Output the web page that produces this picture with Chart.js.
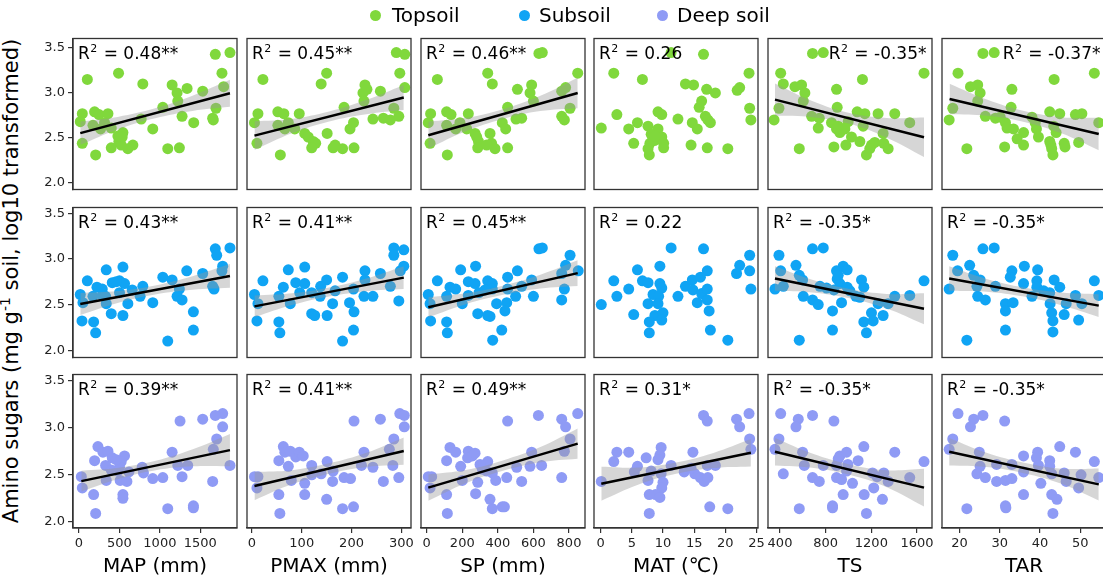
<!DOCTYPE html>
<html><head><meta charset="utf-8">
<script src="https://cdn.jsdelivr.net/npm/chart.js@4.4.1/dist/chart.umd.min.js"></script>
<style>
html,body{margin:0;padding:0;background:#fff;overflow:hidden;width:1103px;height:583px;}
body{position:relative;font-family:"DejaVu Sans",sans-serif;}
.wrap{position:absolute;}
.wrap canvas{display:block;}
.leg-dot{position:absolute;width:11px;height:11px;border-radius:50%;}
.leg-txt{position:absolute;font-size:20px;line-height:20px;color:#000;white-space:nowrap;}
#ytitle{position:absolute;left:11px;top:280.5px;transform:translate(-50%,-50%) rotate(-90deg);font-size:21px;line-height:21px;white-space:nowrap;color:#000;}
#ytitle sup{font-size:14px;vertical-align:8px;line-height:0;}
</style></head><body>
<div id="ytitle">Amino sugars (mg g<sup>-1</sup> soil, log10 transformed)</div>
<script>
// ---------------- DATA ----------------
const seriesNames = ["Topsoil", "Subsoil", "Deep soil"];
const predictors = ["MAP (mm)", "PMAX (mm)", "SP (mm)", "MAT (\u2103)", "TS", "TAR"];
const xTicks_MAP = [0, 500, 1000, 1500];
const xTicks_PMAX = [0, 100, 200, 300];
const xTicks_SP = [0, 200, 400, 600, 800];
const xTicks_MAT = [0, 5, 10, 15, 20, 25];
const xTicks_TS = [400, 800, 1200, 1600];
const xTicks_TAR = [20, 30, 40, 50];
const yTicks = [2.0, 2.5, 3.0, 3.5];

const r2Top  = ["0.48**", "0.45**", "0.46**", "0.26", "-0.35*", "-0.37*"];
const r2Sub  = ["0.43**", "0.41**", "0.45**", "0.22", "-0.35*", "-0.35*"];
const r2Deep = ["0.39**", "0.41**", "0.49**", "0.31*", "-0.35*", "-0.35*"];

// Topsoil
const top_MAP = [[1866,3.45],[1685,3.43],[1767,3.22],[1788,3.07],[103,3.15],[489,3.22],[789,3.10],[1151,3.09],[1336,3.05],[1212,3.00],[1529,3.02],[1221,2.91],[1693,2.83],[1036,2.84],[41,2.77],[193,2.79],[247,2.76],[358,2.77],[16,2.68],[769,2.71],[1274,2.74],[1652,2.72],[1660,2.70],[1418,2.67],[173,2.64],[316,2.67],[267,2.60],[399,2.61],[912,2.60],[543,2.56],[534,2.51],[493,2.46],[522,2.42],[41,2.44],[666,2.42],[604,2.38],[399,2.39],[1097,2.38],[1241,2.39],[206,2.31],[481,2.52]];
const top_PMAX = [[290,3.45],[307,3.43],[297,3.22],[307,3.06],[22,3.15],[150,3.22],[139,3.10],[227,3.09],[231,3.04],[223,3.00],[258,3.02],[225,2.91],[285,2.83],[185,2.84],[12,2.77],[52,2.79],[64,2.77],[95,2.77],[5,2.67],[243,2.71],[264,2.72],[278,2.70],[295,2.74],[204,2.67],[52,2.64],[73,2.67],[66,2.60],[86,2.60],[197,2.60],[106,2.55],[113,2.51],[123,2.46],[128,2.44],[10,2.44],[120,2.39],[163,2.39],[182,2.38],[205,2.39],[57,2.31],[151,2.55],[167,2.42]];
const top_SP = [[631,3.44],[650,3.45],[849,3.22],[60,3.15],[343,3.22],[369,3.10],[510,3.04],[590,3.09],[581,3.00],[781,3.06],[759,3.02],[600,2.91],[806,2.83],[455,2.84],[22,2.77],[112,2.79],[137,2.76],[234,2.77],[9,2.67],[759,2.74],[774,2.70],[502,2.71],[534,2.72],[425,2.67],[112,2.64],[187,2.67],[163,2.60],[225,2.60],[444,2.60],[272,2.55],[281,2.51],[291,2.46],[19,2.44],[287,2.39],[356,2.55],[365,2.44],[384,2.38],[455,2.39],[116,2.31],[337,2.42]];
const top_MAT = [[11.3,3.45],[16.5,3.43],[2.1,3.22],[6.7,3.15],[23.8,3.22],[13.6,3.10],[14.9,3.09],[17.0,3.04],[18.4,3.00],[21.9,3.03],[22.3,3.06],[16.2,2.91],[15.8,2.84],[23.9,2.83],[2.6,2.76],[9.2,2.79],[9.8,2.76],[12.4,2.71],[24.1,2.70],[16.8,2.74],[17.2,2.70],[17.6,2.67],[14.7,2.67],[0.1,2.61],[5.9,2.67],[7.6,2.63],[4.5,2.60],[9.2,2.60],[15.5,2.60],[8.1,2.54],[9.8,2.51],[8.6,2.47],[5.3,2.44],[7.9,2.44],[10.1,2.44],[10.1,2.39],[7.6,2.38],[7.8,2.31],[14.5,2.42],[17.1,2.39],[20.4,2.38],[8.7,2.52]];
const top_TS = [[685,3.44],[779,3.45],[406,3.22],[1661,3.22],[429,3.10],[1122,3.15],[531,3.07],[589,3.09],[618,3.00],[895,3.04],[604,2.91],[391,2.83],[901,2.84],[348,2.70],[677,2.74],[744,2.72],[1076,2.79],[1143,2.77],[1259,2.77],[1405,2.77],[1536,2.67],[735,2.61],[851,2.67],[910,2.63],[948,2.60],[997,2.68],[924,2.56],[968,2.60],[1128,2.63],[1303,2.55],[1026,2.51],[1099,2.46],[569,2.38],[872,2.40],[977,2.42],[1201,2.42],[1230,2.45],[1309,2.44],[1347,2.38],[1157,2.31],[895,2.60],[1186,2.38]];
const top_TAR = [[25.8,3.44],[28.6,3.45],[19.6,3.22],[53.5,3.22],[22.7,3.07],[24.5,3.09],[25.1,3.00],[33.0,3.04],[43.5,3.15],[24.5,2.91],[18.3,2.83],[32.8,2.84],[17.4,2.70],[26.4,2.74],[28.9,2.72],[38.0,2.73],[42.4,2.79],[44.9,2.77],[48.8,2.76],[50.4,2.77],[54.6,2.67],[31.4,2.67],[31.8,2.61],[33.4,2.60],[35.9,2.56],[38.8,2.67],[39.1,2.60],[39.6,2.51],[43.4,2.63],[44.0,2.56],[42.4,2.46],[21.8,2.38],[31.2,2.40],[35.9,2.42],[42.7,2.42],[42.9,2.38],[43.2,2.31],[46.0,2.44],[46.2,2.40],[49.6,2.45],[30.1,2.73],[34.3,2.49]];

// Subsoil
const sub_MAP = [[1866,3.12],[1685,3.11],[1702,3.04],[1776,2.92],[1767,2.87],[1652,2.70],[1669,2.67],[1332,2.87],[1529,2.84],[1036,2.80],[1151,2.77],[1241,2.67],[1212,2.59],[1274,2.55],[1414,2.42],[1414,2.22],[1097,2.10],[912,2.52],[789,2.70],[756,2.59],[658,2.66],[543,2.91],[337,2.88],[103,2.76],[16,2.61],[49,2.52],[37,2.32],[181,2.31],[206,2.19],[222,2.69],[288,2.67],[411,2.74],[501,2.76],[563,2.73],[173,2.59],[329,2.59],[337,2.51],[399,2.40],[501,2.63],[543,2.38],[604,2.51],[288,2.60],[460,2.75]];
const sub_PMAX = [[285,3.12],[305,3.10],[285,3.04],[305,2.92],[298,2.87],[295,2.54],[278,2.70],[258,2.84],[227,2.87],[227,2.77],[182,2.80],[204,2.67],[225,2.59],[243,2.59],[196,2.52],[205,2.42],[204,2.22],[182,2.10],[162,2.51],[150,2.77],[138,2.70],[106,2.91],[73,2.88],[22,2.76],[5,2.61],[12,2.51],[10,2.32],[54,2.31],[56,2.19],[63,2.69],[88,2.74],[106,2.73],[54,2.59],[77,2.51],[96,2.63],[120,2.63],[120,2.40],[126,2.38],[151,2.38],[167,2.65],[137,2.59]];
const sub_SP = [[631,3.11],[650,3.12],[806,3.04],[781,2.93],[852,2.87],[759,2.84],[774,2.67],[759,2.55],[275,2.92],[191,2.88],[60,2.76],[9,2.61],[19,2.51],[22,2.32],[112,2.31],[116,2.19],[131,2.69],[163,2.67],[234,2.75],[272,2.73],[343,2.76],[369,2.73],[112,2.59],[200,2.51],[234,2.60],[294,2.63],[369,2.67],[455,2.80],[510,2.87],[590,2.77],[534,2.70],[455,2.67],[500,2.59],[600,2.59],[393,2.51],[450,2.52],[440,2.43],[287,2.40],[343,2.38],[356,2.37],[422,2.22],[371,2.11],[328,2.66]];
const sub_MAT = [[11.3,3.12],[16.5,3.11],[23.9,3.04],[22.3,2.93],[23.9,2.87],[21.8,2.84],[24.1,2.67],[9.5,2.92],[5.9,2.88],[17.1,2.87],[2.1,2.76],[0.1,2.50],[2.6,2.59],[4.5,2.67],[6.7,2.76],[7.6,2.74],[9.5,2.73],[9.8,2.68],[8.4,2.61],[9.3,2.59],[12.4,2.59],[7.6,2.51],[9.2,2.51],[5.3,2.39],[8.7,2.38],[10.0,2.41],[9.8,2.33],[7.8,2.31],[7.8,2.19],[13.6,2.70],[14.7,2.77],[16.0,2.80],[14.8,2.66],[16.2,2.62],[15.5,2.52],[17.1,2.67],[17.1,2.55],[17.4,2.43],[17.6,2.22],[20.4,2.11]];
const sub_TS = [[685,3.11],[779,3.12],[391,3.04],[1661,2.76],[540,2.93],[406,2.87],[569,2.82],[598,2.77],[356,2.67],[429,2.70],[750,2.70],[604,2.59],[685,2.55],[735,2.50],[860,2.43],[860,2.22],[569,2.11],[895,2.87],[953,2.92],[988,2.88],[901,2.78],[924,2.73],[872,2.66],[988,2.69],[1114,2.77],[1134,2.69],[939,2.52],[1064,2.59],[1099,2.58],[1259,2.51],[1347,2.51],[1405,2.59],[1536,2.60],[1201,2.41],[1303,2.38],[1216,2.32],[1134,2.31],[1157,2.19],[1012,2.65],[808,2.68],[910,2.82]];
const sub_TAR = [[25.8,3.11],[28.6,3.12],[18.3,3.04],[53.5,2.76],[54.6,2.60],[22.5,2.93],[19.5,2.87],[23.5,2.82],[25.1,2.77],[17.4,2.67],[24.3,2.70],[28.9,2.70],[24.5,2.59],[26.4,2.55],[31.4,2.51],[31.4,2.43],[31.4,2.22],[21.8,2.11],[33.0,2.87],[32.6,2.80],[36.1,2.92],[39.4,2.88],[35.9,2.73],[39.2,2.76],[39.2,2.69],[43.5,2.77],[44.9,2.69],[38.0,2.59],[42.4,2.63],[42.5,2.51],[46.5,2.51],[48.8,2.60],[50.4,2.51],[42.9,2.41],[46.0,2.39],[43.2,2.32],[43.2,2.20],[49.6,2.33],[33.3,2.52],[40.9,2.65]];

// Deep soil
const deep_MAP = [[1776,3.15],[1685,3.13],[1529,3.09],[1249,3.07],[1776,3.01],[1702,2.88],[1660,2.77],[1866,2.60],[1652,2.43],[1151,2.74],[1221,2.60],[1344,2.60],[1274,2.48],[1097,2.14],[1414,2.17],[1414,2.15],[1036,2.47],[912,2.46],[781,2.58],[797,2.52],[617,2.53],[563,2.70],[522,2.64],[501,2.58],[509,2.44],[543,2.29],[543,2.25],[592,2.43],[234,2.80],[296,2.74],[358,2.75],[411,2.68],[329,2.60],[399,2.55],[337,2.44],[193,2.65],[29,2.48],[41,2.36],[181,2.29],[206,2.09],[460,2.66],[481,2.54]];
const deep_PMAX = [[297,3.15],[306,3.13],[258,3.09],[205,3.07],[306,3.01],[285,2.88],[276,2.77],[283,2.60],[295,2.47],[264,2.43],[225,2.74],[220,2.60],[243,2.58],[182,2.14],[204,2.16],[185,2.47],[198,2.46],[151,2.64],[163,2.54],[162,2.43],[150,2.24],[120,2.60],[139,2.51],[106,2.41],[106,2.29],[63,2.80],[66,2.74],[77,2.75],[88,2.69],[95,2.74],[103,2.70],[73,2.59],[79,2.44],[54,2.65],[5,2.48],[12,2.48],[10,2.36],[54,2.29],[56,2.09],[120,2.50]];
const deep_SP = [[849,3.15],[628,3.13],[759,3.09],[455,3.07],[781,3.01],[806,2.88],[774,2.75],[759,2.47],[590,2.74],[581,2.59],[646,2.60],[534,2.43],[506,2.58],[450,2.47],[437,2.16],[425,2.16],[369,2.14],[356,2.24],[388,2.44],[343,2.64],[300,2.61],[287,2.42],[275,2.30],[337,2.54],[369,2.52],[131,2.79],[163,2.74],[234,2.75],[257,2.70],[230,2.68],[272,2.73],[191,2.59],[112,2.65],[200,2.44],[9,2.48],[28,2.48],[19,2.36],[112,2.29],[116,2.09],[313,2.56]];
const deep_MAT = [[23.8,3.15],[16.5,3.13],[17.1,3.07],[21.8,3.09],[22.3,3.01],[23.9,2.88],[24.1,2.77],[14.8,2.74],[9.7,2.79],[9.5,2.71],[9.2,2.66],[7.3,2.68],[5.9,2.59],[2.6,2.74],[4.5,2.74],[2.1,2.64],[0.1,2.43],[5.4,2.53],[7.6,2.44],[9.7,2.51],[10.0,2.42],[9.8,2.36],[8.8,2.29],[9.5,2.26],[7.8,2.29],[7.8,2.09],[11.3,2.60],[13.4,2.53],[15.1,2.51],[16.0,2.47],[16.6,2.43],[17.2,2.47],[17.1,2.60],[18.4,2.60],[17.5,2.16],[20.4,2.14],[14.5,2.57],[8.1,2.54]];
const deep_TS = [[406,3.15],[685,3.13],[560,3.09],[540,3.01],[872,3.07],[391,2.88],[356,2.77],[598,2.74],[613,2.60],[429,2.51],[685,2.47],[744,2.43],[569,2.14],[779,2.60],[895,2.60],[924,2.70],[983,2.74],[910,2.67],[994,2.61],[895,2.47],[939,2.45],[1035,2.41],[953,2.29],[860,2.17],[860,2.15],[1084,2.65],[1134,2.80],[1210,2.52],[1250,2.48],[1309,2.52],[1347,2.43],[1405,2.74],[1536,2.47],[1661,2.64],[1221,2.36],[1137,2.29],[1297,2.24],[1157,2.09],[983,2.54]];
const deep_TAR = [[19.6,3.15],[23.5,3.09],[22.7,3.01],[25.8,3.13],[31.2,3.07],[18.3,2.88],[17.4,2.77],[24.9,2.74],[25.1,2.59],[24.3,2.51],[26.4,2.47],[29.2,2.61],[29.2,2.43],[21.8,2.14],[31.4,2.44],[33.0,2.46],[31.4,2.17],[31.5,2.15],[33.0,2.61],[35.9,2.70],[35.9,2.53],[35.9,2.29],[39.4,2.74],[39.1,2.68],[39.6,2.60],[42.4,2.65],[42.4,2.59],[40.2,2.41],[42.9,2.51],[42.9,2.29],[44.2,2.24],[43.2,2.09],[44.9,2.80],[46.0,2.52],[46.5,2.43],[48.8,2.74],[50.2,2.50],[49.6,2.36],[53.5,2.64],[54.6,2.47]];

// Fitted lines (end points) and confidence bands [x, lower, upper]
const top_MAP_fit = [[16,2.553],[1866,2.996]];
const top_MAP_band = [[16,2.423,2.683],[478,2.594,2.734],[941,2.719,2.829],[1403,2.800,2.970],[1866,2.846,3.146]];
const top_PMAX_fit = [[5,2.525],[305,2.95]];
const top_PMAX_band = [[5,2.365,2.685],[80,2.551,2.711],[155,2.683,2.793],[230,2.764,2.924],[305,2.81,3.09]];
const top_SP_fit = [[9,2.53],[849,3.00]];
const top_SP_band = [[9,2.38,2.68],[219,2.573,2.723],[429,2.71,2.82],[639,2.798,2.968],[849,2.83,3.17]];
const top_TS_fit = [[356,2.926],[1661,2.507]];
const top_TS_band = [[356,2.746,3.106],[682,2.731,2.911],[1009,2.657,2.777],[1335,2.502,2.722],[1661,2.287,2.727]];
const top_TAR_fit = [[17.5,2.933],[54.6,2.543]];
const top_TAR_band = [[17.5,2.763,3.103],[26.8,2.746,2.926],[36.05,2.678,2.798],[45.3,2.551,2.731],[54.6,2.363,2.723]];

const sub_MAP_fit = [[16,2.506],[1866,2.813]];
const sub_MAP_band = [[16,2.386,2.626],[478,2.518,2.648],[941,2.61,2.71],[1403,2.661,2.811],[1866,2.683,2.943]];
const sub_PMAX_fit = [[5,2.48],[305,2.795]];
const sub_PMAX_band = [[5,2.36,2.60],[80,2.494,2.624],[155,2.588,2.688],[230,2.646,2.786],[305,2.67,2.92]];
const sub_SP_fit = [[9,2.47],[849,2.844]];
const sub_SP_band = [[9,2.36,2.58],[219,2.504,2.624],[429,2.607,2.707],[639,2.676,2.826],[849,2.704,2.984]];
const sub_TS_fit = [[356,2.785],[1661,2.453]];
const sub_TS_band = [[356,2.65,2.92],[682,2.632,2.772],[1009,2.569,2.669],[1335,2.456,2.616],[1661,2.283,2.623]];
const sub_TAR_fit = [[17.4,2.785],[54.6,2.488]];
const sub_TAR_band = [[17.4,2.65,2.92],[26.7,2.641,2.781],[36.0,2.587,2.687],[45.3,2.492,2.632],[54.6,2.363,2.613]];

const deep_MAP_fit = [[29,2.433],[1866,2.762]];
const deep_MAP_band = [[29,2.323,2.543],[488,2.455,2.575],[948,2.548,2.648],[1407,2.59,2.77],[1866,2.592,2.932]];
const deep_PMAX_fit = [[5,2.381],[305,2.752]];
const deep_PMAX_band = [[5,2.231,2.531],[80,2.399,2.549],[155,2.512,2.622],[230,2.584,2.734],[305,2.607,2.897]];
const deep_SP_fit = [[9,2.364],[849,2.831]];
const deep_SP_band = [[9,2.224,2.504],[219,2.411,2.551],[429,2.543,2.653],[639,2.634,2.794],[849,2.671,2.991]];
const deep_MAT_fit = [[0.1,2.405],[24.1,2.734]];
const deep_MAT_band = [[0.1,2.225,2.585],[6.1,2.397,2.577],[12.1,2.51,2.63],[18.1,2.572,2.732],[24.1,2.589,2.879]];
const deep_TS_fit = [[356,2.745],[1661,2.364]];
const deep_TS_band = [[356,2.60,2.89],[682,2.575,2.725],[1009,2.50,2.61],[1335,2.369,2.549],[1661,2.164,2.564]];
const deep_TAR_fit = [[17.4,2.745],[54.6,2.398]];
const deep_TAR_band = [[17.4,2.60,2.89],[26.7,2.583,2.733],[36.0,2.517,2.627],[45.3,2.405,2.565],[54.6,2.228,2.568]];

// ---------------- LAYOUT / STYLE ----------------
const COLORS = ['#80D83C', '#10A4F4', '#8F9BF5'];
const BOX_L = [73, 247, 421, 594, 768, 942];
const BOX_T = [35, 204, 371];
const BOX_H = [158, 157, 157];
const BOX_W = 164;
const X_RANGE = [[-74, 1953], [-10, 319.5], [-32, 890], [-1.07, 25.24], [295, 1731], [15.62, 56.4]];
const Y_RANGE = [[1.926, 3.606], [1.92, 3.563], [1.935, 3.565]];
const X_TICKS = [xTicks_MAP, xTicks_PMAX, xTicks_SP, xTicks_MAT, xTicks_TS, xTicks_TAR];

const rows = [
  { pts: [top_MAP, top_PMAX, top_SP, top_MAT, top_TS, top_TAR],
    fit: [top_MAP_fit, top_PMAX_fit, top_SP_fit, null, top_TS_fit, top_TAR_fit],
    band: [top_MAP_band, top_PMAX_band, top_SP_band, null, top_TS_band, top_TAR_band],
    r2: r2Top },
  { pts: [sub_MAP, sub_PMAX, sub_SP, sub_MAT, sub_TS, sub_TAR],
    fit: [sub_MAP_fit, sub_PMAX_fit, sub_SP_fit, null, sub_TS_fit, sub_TAR_fit],
    band: [sub_MAP_band, sub_PMAX_band, sub_SP_band, null, sub_TS_band, sub_TAR_band],
    r2: r2Sub },
  { pts: [deep_MAP, deep_PMAX, deep_SP, deep_MAT, deep_TS, deep_TAR],
    fit: [deep_MAP_fit, deep_PMAX_fit, deep_SP_fit, deep_MAT_fit, deep_TS_fit, deep_TAR_fit],
    band: [deep_MAP_band, deep_PMAX_band, deep_SP_band, deep_MAT_band, deep_TS_band, deep_TAR_band],
    r2: r2Deep }
];

Chart.defaults.font.family = '"DejaVu Sans", sans-serif';

const boxPlugin = {
  id: 'panelBox',
  afterDraw(chart) {
    const { ctx, chartArea: a } = chart;
    ctx.save();
    ctx.strokeStyle = '#333';
    ctx.lineWidth = 1.3;
    ctx.strokeRect(a.left, a.top, a.right - a.left, a.bottom - a.top);
    ctx.restore();
  }
};

const r2Plugin = {
  id: 'r2label',
  afterDatasetsDraw(chart, args, opts) {
    const { ctx, chartArea: a } = chart;
    const fMain = '17px "DejaVu Sans"', fSup = '11px "DejaVu Sans"';
    ctx.save();
    ctx.fillStyle = '#000';
    ctx.textBaseline = 'alphabetic';
    ctx.textAlign = 'left';
    ctx.font = fMain;
    const wR = ctx.measureText('R').width;
    const rest = ' = ' + opts.text;
    const wRest = ctx.measureText(rest).width;
    ctx.font = fSup;
    const w2 = ctx.measureText('2').width;
    const total = wR + 0.5 + w2 + 1 + wRest;
    const x = opts.right ? a.right - 5.5 - total : a.left + 5;
    const y = a.top + 20;
    ctx.font = fMain; ctx.fillText('R', x, y);
    ctx.font = fSup; ctx.fillText('2', x + wR + 0.5, y - 7);
    ctx.font = fMain; ctx.fillText(rest, x + wR + 0.5 + w2 + 1, y);
    ctx.restore();
  }
};

function makePanel(r, c) {
  const isBottom = r === 2, isLeft = c === 0;
  const axisW = 34, axisH = 55, padX = 12, padY = 2;
  const leftExtra = isLeft ? axisW : padX;
  const cw = BOX_W + leftExtra + padX;
  const ch = BOX_H[r] + padY + (isBottom ? axisH : padY);
  const wrap = document.createElement('div');
  wrap.className = 'wrap';
  wrap.style.left = (BOX_L[c] - leftExtra) + 'px';
  wrap.style.top = (BOX_T[r] - padY) + 'px';
  wrap.style.width = cw + 'px';
  wrap.style.height = ch + 'px';
  const cv = document.createElement('canvas');
  wrap.appendChild(cv);
  document.body.appendChild(wrap);

  const row = rows[r];
  const datasets = [{
    type: 'scatter',
    data: row.pts[c].map(p => ({ x: p[0], y: p[1] })),
    backgroundColor: COLORS[r], borderWidth: 0,
    pointRadius: 5.5, pointHoverRadius: 5.5, pointBorderWidth: 0,
    order: 3
  }];
  const band = row.band[c], fit = row.fit[c];
  if (band) {
    datasets.push({
      type: 'line', data: band.map(b => ({ x: b[0], y: b[2] })),
      borderWidth: 0, pointRadius: 0, fill: '+1', tension: 0.4,
      backgroundColor: 'rgba(153,153,153,0.4)', borderColor: 'rgba(0,0,0,0)', order: 2
    });
    datasets.push({
      type: 'line', data: band.map(b => ({ x: b[0], y: b[1] })),
      borderWidth: 0, pointRadius: 0, fill: false, tension: 0.4,
      borderColor: 'rgba(0,0,0,0)', order: 2
    });
  }
  if (fit) {
    datasets.push({
      type: 'line', data: fit.map(p => ({ x: p[0], y: p[1] })),
      borderColor: '#000', borderWidth: 2.5, pointRadius: 0, fill: false, order: 1
    });
  }

  const axisGrid = { display: true, drawOnChartArea: false, drawTicks: true, tickLength: 5, color: '#333', lineWidth: 1.2 };
  const axisBorder = { display: true, color: '#333', width: 1.3 };
  const xt = X_TICKS[c];

  new Chart(cv, {
    type: 'scatter',
    data: { datasets },
    options: {
      responsive: true, maintainAspectRatio: false, animation: false, devicePixelRatio: 1, events: [],
      layout: { padding: { left: isLeft ? 0 : padX, right: padX, top: padY, bottom: isBottom ? 0 : padY } },
      plugins: {
        legend: { display: false }, tooltip: { enabled: false },
        r2label: { text: row.r2[c], right: (r === 0 && c >= 4) }
      },
      scales: {
        x: {
          type: 'linear', min: X_RANGE[c][0], max: X_RANGE[c][1], display: isBottom,
          afterBuildTicks: s => { s.ticks = xt.map(v => ({ value: v })); },
          afterFit: s => { s.height = isBottom ? axisH : 0; s.paddingLeft = 0; s.paddingRight = 0; },
          grid: axisGrid, border: axisBorder,
          ticks: { font: { size: 13 }, color: '#222', padding: 3, maxRotation: 0, autoSkip: false, callback: v => String(v) },
          title: { display: true, text: predictors[c], font: { size: 20 }, color: '#000', padding: { top: 0, bottom: 4 } }
        },
        y: {
          type: 'linear', min: Y_RANGE[r][0], max: Y_RANGE[r][1], display: isLeft,
          afterBuildTicks: s => { s.ticks = yTicks.map(v => ({ value: v })); },
          afterFit: s => { s.width = isLeft ? axisW : 0; s.paddingTop = 0; s.paddingBottom = 0; },
          grid: axisGrid, border: axisBorder,
          ticks: { font: { size: 13 }, color: '#222', padding: 3, autoSkip: false, callback: v => Number(v).toFixed(1) }
        }
      }
    },
    plugins: [boxPlugin, r2Plugin]
  });
}

for (let r = 0; r < 3; r++) for (let c = 0; c < 6; c++) makePanel(r, c);

// Legend
const legDotX = [375, 524, 662];
const legTxtX = [392, 539, 677];
seriesNames.forEach((name, i) => {
  const d = document.createElement('div');
  d.className = 'leg-dot';
  d.style.left = (legDotX[i] - 5.5) + 'px';
  d.style.top = (15 - 5.5) + 'px';
  d.style.background = COLORS[i];
  document.body.appendChild(d);
  const t = document.createElement('div');
  t.className = 'leg-txt';
  t.style.left = legTxtX[i] + 'px';
  t.style.top = '5px';
  t.textContent = name;
  document.body.appendChild(t);
});
</script>
</body></html>
